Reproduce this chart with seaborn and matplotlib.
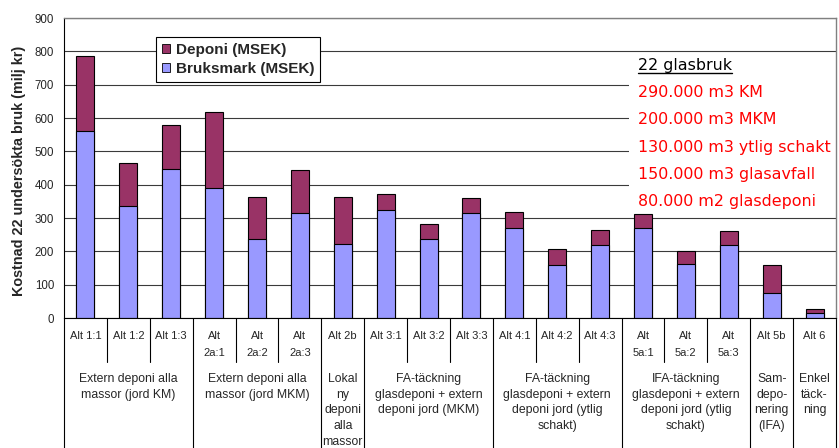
import matplotlib
matplotlib.use("Agg")
import matplotlib.pyplot as plt
import seaborn as sns
import pandas as pd
from matplotlib.patches import Patch, Rectangle
from matplotlib.lines import Line2D


# Alternatives, one bar each
alternativ = ['Alt 1:1', 'Alt 1:2', 'Alt 1:3', 'Alt 2a:1', 'Alt 2a:2',
              'Alt 2a:3', 'Alt 2b', 'Alt 3:1', 'Alt 3:2', 'Alt 3:3',
              'Alt 4:1', 'Alt 4:2', 'Alt 4:3', 'Alt 5a:1', 'Alt 5a:2',
              'Alt 5a:3', 'Alt 5b', 'Alt 6']
tick_labels = ['Alt 1:1', 'Alt 1:2', 'Alt 1:3', 'Alt\n2a:1', 'Alt\n2a:2',
               'Alt\n2a:3', 'Alt 2b', 'Alt 3:1', 'Alt 3:2', 'Alt 3:3',
               'Alt 4:1', 'Alt 4:2', 'Alt 4:3', 'Alt\n5a:1', 'Alt\n5a:2',
               'Alt\n5a:3', 'Alt 5b', 'Alt 6']

# MSEK
bruksmark = [560, 337, 446, 389, 236, 314, 221, 325, 236, 314,
             270, 160, 218, 270, 161, 218, 74, 14]
deponi = [225, 129, 133, 228, 127, 129, 142, 47, 46, 47,
          47, 47, 47, 41, 41, 42, 84, 12]

# group labels under the axis: (first index, last index, text)
grupper = [(0, 2, 'Extern deponi alla\nmassor (jord KM)'),
           (3, 5, 'Extern deponi alla\nmassor (jord MKM)'),
           (6, 6, 'Lokal\nny\ndeponi\nalla\nmassor'),
           (7, 9, 'FA-täckning\nglasdeponi + extern\ndeponi jord (MKM)'),
           (10, 12, 'FA-täckning\nglasdeponi + extern\ndeponi jord (ytlig\nschakt)'),
           (13, 15, 'IFA-täckning\nglasdeponi + extern\ndeponi jord (ytlig\nschakt)'),
           (16, 16, 'Sam-\ndepo-\nnering\n(IFA)'),
           (17, 17, 'Enkel\ntäck-\nning')]

info_rubrik = '22 glasbruk'
info_rader = ['290.000 m3 KM', '200.000 m3 MKM', '130.000 m3 ytlig schakt',
              '150.000 m3 glasavfall', '80.000 m2 glasdeponi']

DEPONI_FARG = '#993366'
BRUKS_FARG = '#9999FF'


def draw_bars(ax, df):
    # total bar first (deponi colour), bruksmark drawn on top of it
    sns.barplot(data=df, x='alt', y='total', color=DEPONI_FARG, width=0.42,
                saturation=1, edgecolor='black', linewidth=0.8, ax=ax)
    sns.barplot(data=df, x='alt', y='bruksmark', color=BRUKS_FARG, width=0.42,
                saturation=1, edgecolor='black', linewidth=0.8, ax=ax)
    for p in ax.patches:
        p.set_zorder(2)


def style_axes(ax):
    ax.set_ylim(0, 900)
    ax.set_xlim(-0.5, len(alternativ) - 0.5)
    ax.set_yticks(range(0, 901, 100))
    ax.tick_params(axis='y', length=5, width=0.8, labelsize=8.3, pad=2,
                   color='black')
    ax.set_xticks(range(len(alternativ)))
    ax.set_xticklabels(tick_labels, fontsize=8)
    ax.tick_params(axis='x', length=0, pad=9.5)
    for lbl in ax.get_xticklabels():
        lbl.set_linespacing(1.9)
    ax.set_xlabel('')
    ax.set_ylabel('Kostnad 22 undersökta bruk (milj kr)', fontsize=10.4,
                  fontweight='bold')
    ax.yaxis.set_label_coords(-0.049, 0.49)

    ax.set_axisbelow(True)
    ax.yaxis.grid(True, color='#3a3a3a', linewidth=0.8)
    ax.xaxis.grid(False)
    for side in ['left', 'bottom']:
        ax.spines[side].set_color('black')
        ax.spines[side].set_linewidth(0.8)
    for side in ['top', 'right']:
        ax.spines[side].set_visible(True)
        ax.spines[side].set_color('#808080')
        ax.spines[side].set_linewidth(1.0)


def draw_category_lines(ax):
    trans = ax.get_xaxis_transform()
    group_edges = set()
    for first, last, text in grupper:
        group_edges.add(first - 0.5)
        group_edges.add(last + 0.5)
        ax.text((first + last) / 2, -0.183, text, transform=trans,
                ha='center', va='top', fontsize=8.8, linespacing=1.42,
                clip_on=False)
    for i in range(len(alternativ) + 1):
        x = i - 0.5
        bottom = -0.5 if x in group_edges else -0.147
        ax.add_line(Line2D([x, x], [0, bottom], transform=trans,
                           color='black', linewidth=0.8, clip_on=False))


def draw_legend(ax):
    handles = [Patch(facecolor=DEPONI_FARG, edgecolor='black', linewidth=0.6,
                     label='Deponi (MSEK)'),
               Patch(facecolor=BRUKS_FARG, edgecolor='black', linewidth=0.6,
                     label='Bruksmark (MSEK)')]
    leg = ax.legend(handles=handles, loc='upper left',
                    bbox_to_anchor=(0.119, 0.937), frameon=True,
                    fancybox=False, framealpha=1, edgecolor='black',
                    borderpad=0.4, labelspacing=0.3, handlelength=0.55,
                    handleheight=0.55, handletextpad=0.35, borderaxespad=0,
                    prop={'weight': 'bold', 'size': 11})
    leg.get_frame().set_linewidth(0.8)
    leg.set_zorder(5)


def draw_info_box(ax, fig):
    # white box hides the gridlines behind the text (bars stay on top)
    ax.add_patch(Rectangle((0.7319, 0.34), 0.27, 0.543, transform=ax.transAxes,
                           facecolor='white', edgecolor='none', zorder=0.8))
    x0 = 0.7435
    baselines = [70, 97, 124.3, 151.6, 178.9, 206.2]
    rubrik = ax.text(x0, (318 - baselines[0]) / 300, info_rubrik,
                     transform=ax.transAxes, ha='left', va='baseline',
                     fontsize=11.4, color='black', family='DejaVu Sans',
                     zorder=6)
    for y, rad in zip(baselines[1:], info_rader):
        ax.text(x0, (318 - y) / 300, rad, transform=ax.transAxes, ha='left',
                va='baseline', fontsize=11.4, color='#FF0000',
                family='DejaVu Sans', zorder=6)

    # underline for the heading
    fig.canvas.draw()
    bb = rubrik.get_window_extent()
    y_px = fig.bbox.height - 73
    fig.add_artist(Line2D([bb.x0 / fig.bbox.width, bb.x1 / fig.bbox.width],
                          [y_px / fig.bbox.height, y_px / fig.bbox.height],
                          transform=fig.transFigure, color='black',
                          linewidth=1.0))


def main():
    sns.set_style('white')
    plt.rcParams['font.family'] = ['Liberation Sans', 'DejaVu Sans']

    df = pd.DataFrame({'alt': alternativ, 'bruksmark': bruksmark,
                       'deponi': deponi})
    df['total'] = df['bruksmark'] + df['deponi']

    fig = plt.figure(figsize=(8.39, 4.48), dpi=100)
    ax = fig.add_axes([64 / 839, 1 - 318 / 448, 772 / 839, 300 / 448])

    draw_bars(ax, df)
    style_axes(ax)
    draw_category_lines(ax)
    draw_legend(ax)
    draw_info_box(ax, fig)

    fig.savefig('out.png', dpi=100)


if __name__ == "__main__":
    main()
